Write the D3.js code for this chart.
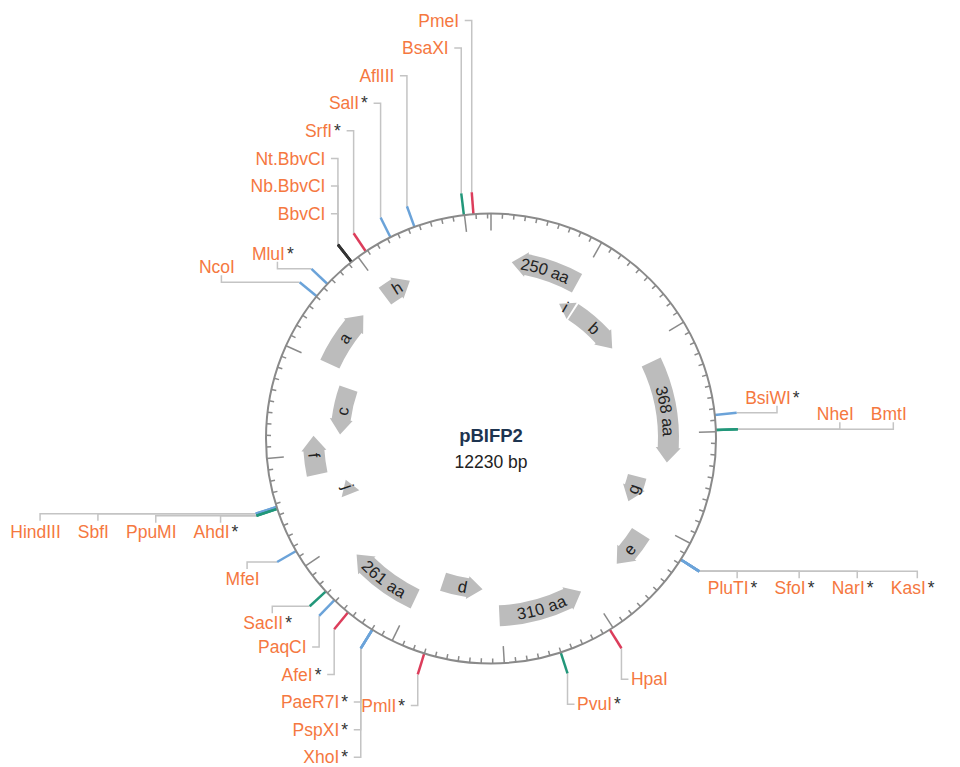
<!DOCTYPE html>
<html>
<head>
<meta charset="utf-8">
<script src="https://cdn.jsdelivr.net/npm/d3@7"></script>
<style>
  body { margin: 0; background: #fff; }
  svg { font-family: Arial, "Liberation Sans", sans-serif; }
</style>
</head>
<body>
<svg id="map" width="960" height="767"></svg>
<script>
const plasmidName = "pBIFP2";
const plasmidLength = 12230;

// features (grey arrows)
const featureLabels = ["250 aa", "i", "b", "368 aa", "g", "e", "310 aa", "d", "261 aa", "j", "f", "c", "a", "h"];
const featureStart = [228, 910, 1121, 2191, 3550, 4158, 5079, 6224, 6975, 8443, 8775, 9224, 10015, 10983];
const featureEnd = [985, 1097, 1814, 3322, 3890, 4583, 6023, 6744, 7787, 8633, 9203, 9829, 10668, 11306];
const featureStrand = [-1, -1, 1, 1, 1, 1, -1, -1, 1, 1, 1, -1, 1, 1];
const featureTrack = [0, 1, 1, 0, 1, 0, 0, 1, 0, 1, 0, 1, 0, 0];

// restriction sites
const enzymeNames = ["BsiWI", "NheI", "BmtI", "PluTI", "SfoI", "NarI", "KasI", "HpaI", "PvuI", "PmlI",
  "PaeR7I", "PspXI", "XhoI", "AfeI", "PaqCI", "SacII", "MfeI", "HindIII", "SbfI", "PpuMI", "AhdI",
  "NcoI", "MluI", "Nt.BbvCI", "Nb.BbvCI", "BbvCI", "SrfI", "SalI", "AflIII", "BsaXI", "PmeI"];
const enzymePos = [2854, 2984, 2984, 4163, 4163, 4163, 4163, 5032, 5502, 6701,
  7196, 7196, 7196, 7454, 7613, 7719, 8153, 8570, 8570, 8553, 8553,
  10505, 10646, 10929, 10929, 10929, 11082, 11328, 11554, 11995, 12078];
const enzymeKind = ["five", "three", "three", "five", "five", "five", "five", "blunt", "three", "blunt",
  "five", "five", "five", "blunt", "five", "three", "five", "five", "five", "three", "three",
  "five", "five", "nick", "nick", "nick", "blunt", "five", "five", "three", "blunt"];
const enzymeStar = [1, 0, 0, 1, 1, 1, 1, 0, 1, 1,
  1, 1, 1, 1, 0, 1, 0, 0, 0, 0, 1,
  0, 1, 0, 0, 0, 1, 1, 0, 0, 0];

const cx = 491, cy = 438.5, R = 225, Rtick = 247;
const fs = 17.5, rowGap = 27.6;
const labelColor = "#f5783f", leaderColor = "#c4c4c4";

const svg = d3.select("#map");
const angle = d3.scaleLinear().domain([0, plasmidLength]).range([0, 2 * Math.PI]);
const pt = (r, a) => [cx + r * Math.sin(a), cy - r * Math.cos(a)];
const P = (r, a) => pt(r, a).join(",");
const siteColor = d3.scaleOrdinal().domain(["five", "three", "blunt", "nick"])
  .range(["#6ba3d9", "#22977a", "#dc3d5b", "#333333"]);

const defs = svg.append("defs");
const gLeader = svg.append("g");
const gSite = svg.append("g");
const gRing = svg.append("g");
const gFeat = svg.append("g");
const gText = svg.append("g");

// backbone + ticks
gRing.append("circle").attr("cx", cx).attr("cy", cy).attr("r", R)
  .attr("fill", "none").attr("stroke", "#8a8a8a").attr("stroke-width", 2);

gRing.selectAll("line.tick").data(d3.range(0, plasmidLength, 100)).join("line")
  .attr("class", "tick")
  .attr("x1", d => pt(R, angle(d))[0]).attr("y1", d => pt(R, angle(d))[1])
  .attr("x2", d => pt(R - (d % 1000 === 0 ? 17 : 5), angle(d))[0])
  .attr("y2", d => pt(R - (d % 1000 === 0 ? 17 : 5), angle(d))[1])
  .attr("stroke", "#8a8a8a").attr("stroke-width", 1.5);

// features
const tracks = [{ mid: 177.5, half: 10.5 }, { mid: 151, half: 9.5 }];
const features = featureLabels.map((label, i) => ({
  label, start: featureStart[i], end: featureEnd[i], strand: featureStrand[i], track: featureTrack[i]
}));

function arrowPath(f) {
  const t = tracks[f.track];
  const rO = t.mid + t.half, rI = t.mid - t.half;
  const a0 = angle(f.start), a1 = angle(f.end);
  const headA = Math.min(15 / t.mid, a1 - a0);
  const tri = headA >= a1 - a0;
  const ex = tri ? 0 : 2;
  const tip = f.strand > 0 ? a1 : a0, tail = f.strand > 0 ? a0 : a1;
  const ah = tip - (f.strand > 0 ? 1 : -1) * headA;
  const sw = f.strand > 0 ? 1 : 0;
  let d = "M" + P(rO, tail);
  if (!tri) d += `A${rO},${rO} 0 0 ${sw} ${P(rO, ah)}`;
  d += `L${P(rO + ex, ah)}L${P(t.mid, tip)}L${P(rI - ex, ah)}L${P(rI, ah)}`;
  if (!tri) d += `A${rI},${rI} 0 0 ${1 - sw} ${P(rI, tail)}`;
  return d + "Z";
}

gFeat.selectAll("path.feat").data(features).join("path")
  .attr("class", "feat").attr("d", arrowPath).attr("fill", "#bcbcbc");

features.forEach((f, i) => {
  const r = tracks[f.track].mid;
  const a0 = angle(f.start) - 0.3, a1 = angle(f.end) + 0.3;
  const mid = (a0 + a1) / 2;
  const flip = mid > Math.PI / 2 && mid < 3 * Math.PI / 2;
  defs.append("path").attr("id", "fp" + i)
    .attr("d", flip ? `M${P(r, a1)}A${r},${r} 0 0 0 ${P(r, a0)}` : `M${P(r, a0)}A${r},${r} 0 0 1 ${P(r, a1)}`);
});

gFeat.selectAll("text.flab").data(features).join("text")
  .attr("class", "flab").attr("font-size", 16.5).attr("fill", "#222").attr("dy", "0.35em")
  .append("textPath").attr("href", (d, i) => "#fp" + i)
  .attr("startOffset", "50%").attr("text-anchor", "middle")
  .text(d => d.label);

// centre title
gText.append("text").attr("x", cx).attr("y", cy + 3.5).attr("text-anchor", "middle")
  .attr("font-size", 18.5).attr("font-weight", "bold").attr("fill", "#1d3450").text(plasmidName);
gText.append("text").attr("x", cx).attr("y", cy + 29.5).attr("text-anchor", "middle")
  .attr("font-size", 17.5).attr("fill", "#222").text(plasmidLength + " bp");

// sites
const enzymes = enzymeNames.map((name, i) => ({
  name, pos: enzymePos[i], kind: enzymeKind[i], star: enzymeStar[i] === 1
}));
enzymes.forEach(e => { e.a = angle(e.pos); e.end = pt(Rtick, e.a); });

gSite.selectAll("line").data(enzymes).join("line")
  .attr("x1", d => pt(R, d.a)[0]).attr("y1", d => pt(R, d.a)[1])
  .attr("x2", d => d.end[0]).attr("y2", d => d.end[1])
  .attr("stroke", d => siteColor(d.kind)).attr("stroke-width", 2.5);

const labels = gText.selectAll("text.site").data(enzymes).join("text")
  .attr("class", "site").attr("font-size", fs).attr("fill", labelColor);
labels.append("tspan").text(d => d.name);
labels.filter(d => d.star).append("tspan").attr("dx", 2).attr("fill", "#333").text("*");
labels.each(function (d) { d.w = this.getBBox().width; });

// group sites that sit together
const groups = [];
enzymes.forEach(e => {
  const g = groups[groups.length - 1];
  if (g && Math.abs(e.pos - g.members[0].pos) <= 30) g.members.push(e);
  else groups.push({ members: [e] });
});
groups.forEach(g => {
  g.a = d3.mean(g.members, m => m.a);
  g.deg = g.a * 180 / Math.PI;
  g.end = pt(Rtick, g.a);
  const d = g.deg;
  if (d >= 315 || d < 45) { g.region = "top"; g.side = d >= 315 ? "left" : "right"; g.off = Math.min(d, 360 - d); }
  else if (d < 135) { g.region = "right"; g.side = d < 90 ? "up" : "down"; g.off = Math.abs(d - 90); }
  else if (d < 225) { g.region = "bottom"; g.side = d > 180 ? "left" : "right"; g.off = Math.abs(d - 180); }
  else { g.region = "left"; g.side = d > 270 ? "up" : "down"; g.off = Math.abs(d - 270); }
});

const obstacles = [];
const overlap = (b, o) => b.x0 + 2 < o.x1 && b.x1 - 2 > o.x0 && b.y0 < o.y1 && b.y1 > o.y0;
const hits = b => obstacles.some(o => overlap(b, o));

function placeVertical(g, sub) {
  const up = g.region === "top", sg = up ? -1 : 1;
  const leftSide = g.side === "left";
  const vx = g.end[0];
  const mem = up ? g.members.slice().reverse() : g.members;
  let y = null;
  mem.forEach((m, k) => {
    const box = yy => leftSide
      ? { x0: vx - 12.5 - m.w, x1: vx, y0: yy - 9, y1: yy + 9 }
      : { x0: vx, x1: vx + 9.5 + m.w, y0: yy - 9, y1: yy + 9 };
    if (k === 0) {
      y = g.end[1] + sg * 31;
      if (sub.last != null && hits(box(y))) y = up ? Math.min(y, sub.last - rowGap) : Math.max(y, sub.last + rowGap);
      while (hits(box(y))) y += sg * rowGap;
    } else y += sg * rowGap;
    m.mode = "v"; m.left = leftSide; m.ty = y;
    m.tx = leftSide ? vx - 12.5 - m.w : vx + 9.5;
    obstacles.push(box(y));
    sub.last = y;
  });
  obstacles.push({ x0: vx, x1: vx, y0: Math.min(g.end[1], y), y1: Math.max(g.end[1], y) });
}

function placeHorizontal(g) {
  const right = g.region === "right";
  const above = g.side === "up";
  const lineY = g.end[1];
  const cyl = lineY + (above ? -15 : 16.7);
  const mem = right ? g.members : g.members.slice().reverse();
  let edge = g.end[0] + (right ? 8.5 : -8.5);
  mem.forEach(m => {
    const w = m.w + 9;
    const mk = e => right ? { x0: e, x1: e + w, y0: cyl - 9, y1: cyl + 9 } : { x0: e - w, x1: e, y0: cyl - 9, y1: cyl + 9 };
    let b = mk(edge), c;
    while ((c = obstacles.find(o => overlap(b, o)))) {
      edge = right ? c.x1 + 8 : c.x0 - 8;
      b = mk(edge);
    }
    m.mode = "h"; m.above = above; m.stubX = (b.x0 + b.x1) / 2; m.tx = b.x0; m.ty = cyl;
    obstacles.push(b);
    edge = right ? b.x1 + 8 : b.x0 - 8;
  });
  const far = right ? d3.max(mem, m => m.stubX) : d3.min(mem, m => m.stubX);
  obstacles.push({ x0: Math.min(g.end[0], far), x1: Math.max(g.end[0], far), y0: lineY, y1: lineY });
}

const order = [["top", "left"], ["top", "right"], ["bottom", "left"], ["bottom", "right"],
  ["right", "up"], ["right", "down"], ["left", "down"], ["left", "up"]];
order.forEach(([reg, side]) => {
  const sub = { last: null };
  groups.filter(g => g.region === reg && g.side === side)
    .sort((a, b) => b.off - a.off)
    .forEach(g => (reg === "top" || reg === "bottom") ? placeVertical(g, sub) : placeHorizontal(g));
});

// leaders
gLeader.selectAll("path").data(enzymes).join("path")
  .attr("d", m => {
    const [x, y] = m.end;
    if (m.mode === "v") return `M${x},${y}V${m.ty}H${m.left ? x - 7 : x + 7}`;
    return `M${x},${y}H${m.stubX}V${y + (m.above ? -7 : 7)}`;
  })
  .attr("fill", "none").attr("stroke", leaderColor).attr("stroke-width", 1.5);

labels.attr("x", d => d.tx).attr("y", d => d.ty + 0.35 * fs);
</script>
</body>
</html>
